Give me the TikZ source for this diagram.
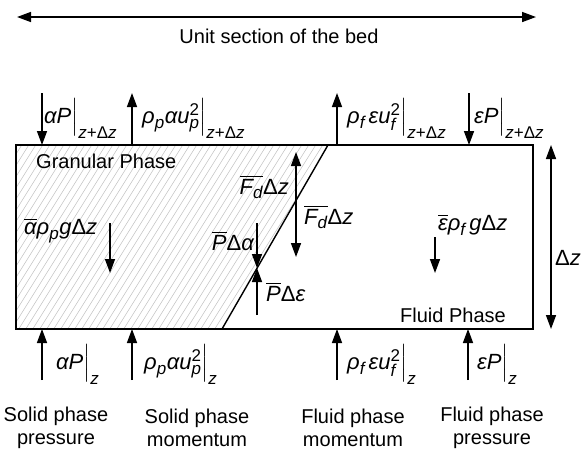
\RequirePackage{fix-cm}
\documentclass[tikz,border=0pt]{standalone}
\usepackage{amsmath}
\usepackage{fontspec}
\setmainfont{Liberation Sans}
\usetikzlibrary{arrows.meta}
\DeclareMathSizes{22}{22}{17}{13}
\newcommand\vv[1]{\textit{#1}}
\newcommand\Dl{\textup{Δ}}
\newcommand\zdz{\vv{z}\textup{+}\Dl\vv{z}}
\newcommand\evb{\Bigr|}
\tikzset{
  lbl/.style={inner sep=0pt, font=\fontsize{20}{23}\selectfont},
  mlbl/.style={inner sep=0pt, font=\fontsize{22}{25}\selectfont},
  farrow/.style={line width=1.5pt, -{Triangle[length=14pt,width=10pt]}},
  darrow/.style={line width=1.5pt, {Triangle[length=14pt,width=10pt]}-{Triangle[length=14pt,width=10pt]}},
  hatch/.style={gray!50, line width=0.5pt},
}
\begin{document}
\begin{tikzpicture}[x=1pt,y=-1pt]
\useasboundingbox (0,0) rectangle (585,453);
% corners
\coordinate (TL) at (16,145); \coordinate (TR) at (533,145);
\coordinate (BR) at (533,329); \coordinate (BL) at (16,329);
\coordinate (DT) at (328,145); \coordinate (DB) at (222,329);
% hatch of the granular phase
\begin{scope}
  \clip (TL) -- (DT) -- (DB) -- (BL) -- cycle;
  \foreach \i in {-160,-153,...,340} \draw[hatch] (\i,335) -- ++(120,-192);
\end{scope}
\draw[line width=1.4pt] (TL) rectangle (BR);
\draw[line width=1.4pt] (DT) -- (DB);
% unit section
\coordinate (UL) at (17,17); \coordinate (UR) at (536,17);
\draw[darrow] (UL) -- (UR);
\node[lbl] (unit) at (279,36) {Unit section of the bed};
% top arrows
\coordinate (t1a) at (42,93); \coordinate (t1b) at (42,145);
\coordinate (t2a) at (132,145); \coordinate (t2b) at (132,93);
\coordinate (t3a) at (337,145); \coordinate (t3b) at (337,93);
\coordinate (t4a) at (469,93); \coordinate (t4b) at (469,145);
\draw[farrow] (t1a) -- (t1b);
\draw[farrow] (t2a) -- (t2b);
\draw[farrow] (t3a) -- (t3b);
\draw[farrow] (t4a) -- (t4b);
\node[mlbl,anchor=west] (lt1) at (44,118) {$\vv{αP}\evb_{\zdz}$};
\node[mlbl,anchor=west] (lt2) at (142,118) {$\vv{ρ}_{\vv{p}}\vv{αu}^{\textup{2}}_{\vv{p}}\evb_{\zdz}$};
\node[mlbl,anchor=west] (lt3) at (347,118) {$\vv{ρ}_{\vv{f}}\,\vv{εu}^{\textup{2}}_{\vv{f}}\evb_{\zdz}$};
\node[mlbl,anchor=west] (lt4) at (474,118) {$\vv{εP}\evb_{\zdz}$};
% bottom arrows
\coordinate (b1a) at (42,380); \coordinate (b1b) at (42,329);
\coordinate (b2a) at (132,380); \coordinate (b2b) at (132,329);
\coordinate (b3a) at (337,380); \coordinate (b3b) at (337,329);
\coordinate (b4a) at (468,380); \coordinate (b4b) at (468,329);
\draw[farrow] (b1a) -- (b1b);
\draw[farrow] (b2a) -- (b2b);
\draw[farrow] (b3a) -- (b3b);
\draw[farrow] (b4a) -- (b4b);
\node[mlbl,anchor=west] (lb1) at (56,364) {$\vv{αP}\evb_{\vv{z}}$};
\node[mlbl,anchor=west] (lb2) at (144,364) {$\vv{ρ}_{\vv{p}}\vv{αu}^{\textup{2}}_{\vv{p}}\evb_{\vv{z}}$};
\node[mlbl,anchor=west] (lb3) at (347,364) {$\vv{ρ}_{\vv{f}}\,\vv{εu}^{\textup{2}}_{\vv{f}}\evb_{\vv{z}}$};
\node[mlbl,anchor=west] (lb4) at (477,364) {$\vv{εP}\evb_{\vv{z}}$};
% captions
\node[lbl,align=center] (c1) at (56,428) {Solid phase\\pressure};
\node[lbl,align=center] (c2) at (197,428) {Solid phase\\momentum};
\node[lbl,align=center] (c3) at (353,428) {Fluid phase\\momentum};
\node[lbl,align=center] (c4) at (492,428) {Fluid phase\\pressure};
% inside
\node[lbl,anchor=west] (gran) at (36,161) {Granular Phase};
\node[lbl,anchor=east] (fluid) at (506,315) {Fluid Phase};
\node[mlbl,anchor=west] (wg) at (24,231) {$\overline{\vv{α}}\vv{ρ}_{\vv{p}}\vv{g}\Dl\vv{z}$};
\coordinate (wga) at (110,223); \coordinate (wgb) at (110,273);
\draw[farrow] (wga) -- (wgb);
\node[mlbl,anchor=west] (wf) at (438,225) {$\overline{\vv{ε}}\vv{ρ}_{\vv{f}}\,\vv{g}\Dl\vv{z}$};
\coordinate (wfa) at (435,237); \coordinate (wfb) at (435,273);
\draw[farrow] (wfa) -- (wfb);
% drag
\coordinate (fda) at (296,152); \coordinate (fdb) at (296,257);
\draw[darrow] (fda) -- (fdb);
\node[mlbl,anchor=east] (fd1) at (289,187) {$\overline{\vv{F}_{\vv{d}}}\Dl\vv{z}$};
\node[mlbl,anchor=west] (fd2) at (304,217) {$\overline{\vv{F}_{\vv{d}}}\Dl\vv{z}$};
% pressure at interface
\coordinate (pm) at (257,268);
\coordinate (pa) at (257,223); \coordinate (pb) at (257,315);
\draw[farrow] (pa) -- (pm);
\draw[farrow] (pb) -- (pm);
\node[mlbl,anchor=east] (pda) at (254,241) {$\overline{\vv{P}}\Dl\vv{α}$};
\node[mlbl,anchor=west] (pde) at (266,292) {$\overline{\vv{P}}\Dl\vv{ε}$};
% delta z
\coordinate (dza) at (551,145); \coordinate (dzb) at (551,329);
\draw[darrow] (dza) -- (dzb);
\node[mlbl,anchor=west] (dz) at (555,258) {$\Dl\vv{z}$};
\end{tikzpicture}
\end{document}
